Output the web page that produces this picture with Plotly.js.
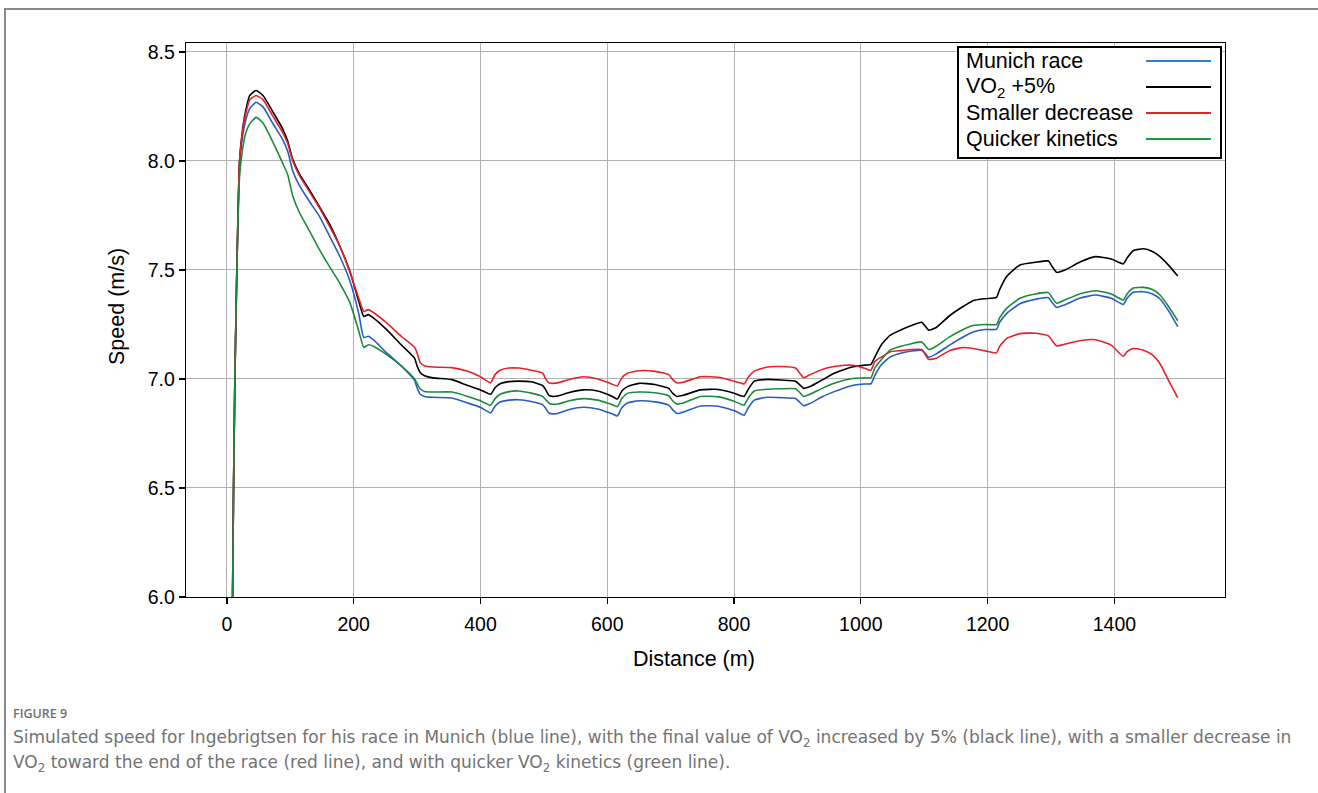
<!DOCTYPE html>
<html>
<head>
<meta charset="utf-8">
<script src="https://cdn.plot.ly/plotly-3.0.1.min.js"></script>
<style>
  html, body { margin: 0; padding: 0; background: #fff; }
  #wrap { position: relative; width: 1318px; height: 793px; }
  #chart { width: 1318px; height: 793px; }
  #frame { position: absolute; left: 4px; top: 8px; right: -2px; bottom: -2px;
           border-top: 2px solid #8a8a8a; border-left: 2px solid #8a8a8a; pointer-events: none; }
</style>
</head>
<body>
<div id="wrap"><div id="chart"></div><div id="frame"></div></div>
<script>
// Distance (m)
const distance = [8.5, 10.5, 12.6, 15.7, 20, 25, 30, 36, 46, 57, 72, 88, 96, 104, 115, 130, 146, 162, 178, 194, 208, 216, 223, 231, 252, 275, 296, 300, 305, 312, 325, 355, 380, 400, 416, 423, 431, 445, 460, 480, 498, 503, 508, 514, 522, 540, 563, 585, 600, 608, 616, 623, 632, 650, 675, 697, 703, 710, 720, 747, 775, 800, 812, 816, 823, 832, 853, 875, 897, 903, 910, 920, 940, 958, 975, 990, 1005, 1016, 1022, 1032, 1046, 1063, 1080, 1096, 1101, 1107, 1119, 1140, 1160, 1177, 1195, 1214, 1219, 1230, 1251, 1275, 1296, 1302, 1309, 1320, 1345, 1370, 1395, 1414, 1420, 1430, 1446, 1460, 1472, 1486, 1500];

// Speed (m/s) per scenario
const munichRace = [5.85, 6.5, 7.0, 7.5, 8.0, 8.12, 8.19, 8.24, 8.269, 8.248, 8.174, 8.098, 8.044, 7.953, 7.884, 7.815, 7.746, 7.655, 7.563, 7.45, 7.30, 7.19, 7.196, 7.18, 7.12, 7.06, 6.994, 6.96, 6.93, 6.92, 6.916, 6.913, 6.89, 6.87, 6.844, 6.875, 6.894, 6.903, 6.905, 6.897, 6.882, 6.865, 6.844, 6.84, 6.842, 6.86, 6.87, 6.862, 6.848, 6.84, 6.83, 6.868, 6.89, 6.90, 6.895, 6.88, 6.86, 6.842, 6.848, 6.876, 6.875, 6.855, 6.838, 6.834, 6.87, 6.903, 6.916, 6.914, 6.91, 6.895, 6.877, 6.888, 6.92, 6.942, 6.96, 6.972, 6.977, 6.978, 7.015, 7.064, 7.10, 7.118, 7.128, 7.132, 7.12, 7.10, 7.115, 7.155, 7.19, 7.215, 7.227, 7.228, 7.26, 7.30, 7.345, 7.365, 7.373, 7.35, 7.328, 7.338, 7.37, 7.385, 7.37, 7.342, 7.37, 7.398, 7.40, 7.39, 7.367, 7.31, 7.24];
const vo2Plus5 = [5.85, 6.5, 7.0, 7.5, 8.0, 8.15, 8.235, 8.30, 8.323, 8.30, 8.228, 8.147, 8.09, 8.006, 7.937, 7.868, 7.79, 7.71, 7.61, 7.494, 7.356, 7.287, 7.295, 7.28, 7.226, 7.157, 7.096, 7.06, 7.03, 7.015, 7.005, 6.997, 6.97, 6.95, 6.93, 6.96, 6.978, 6.988, 6.99, 6.987, 6.97, 6.95, 6.925, 6.92, 6.922, 6.938, 6.95, 6.945, 6.93, 6.92, 6.908, 6.945, 6.965, 6.98, 6.975, 6.957, 6.935, 6.92, 6.925, 6.95, 6.952, 6.935, 6.922, 6.92, 6.955, 6.99, 6.998, 6.995, 6.99, 6.975, 6.957, 6.965, 6.997, 7.026, 7.045, 7.057, 7.063, 7.067, 7.10, 7.155, 7.20, 7.225, 7.245, 7.26, 7.245, 7.224, 7.236, 7.29, 7.33, 7.359, 7.368, 7.374, 7.41, 7.47, 7.523, 7.535, 7.541, 7.515, 7.489, 7.497, 7.535, 7.561, 7.55, 7.528, 7.555, 7.589, 7.597, 7.585, 7.561, 7.52, 7.472];
const smallerDecrease = [5.85, 6.5, 7.0, 7.5, 8.0, 8.14, 8.22, 8.28, 8.30, 8.281, 8.208, 8.13, 8.08, 8.0, 7.93, 7.86, 7.785, 7.70, 7.61, 7.49, 7.37, 7.31, 7.318, 7.305, 7.257, 7.196, 7.145, 7.12, 7.075, 7.06, 7.055, 7.052, 7.035, 7.01, 6.983, 7.02, 7.04, 7.05, 7.05, 7.04, 7.027, 7.0, 6.982, 6.98, 6.982, 6.998, 7.01, 7.0, 6.985, 6.976, 6.968, 7.005, 7.026, 7.038, 7.035, 7.02, 6.998, 6.982, 6.985, 7.01, 7.008, 6.99, 6.98, 6.977, 7.01, 7.036, 7.055, 7.057, 7.05, 7.03, 7.006, 7.02, 7.045, 7.057, 7.063, 7.062, 7.05, 7.04, 7.08, 7.10, 7.124, 7.13, 7.135, 7.135, 7.115, 7.09, 7.095, 7.13, 7.144, 7.14, 7.13, 7.12, 7.15, 7.185, 7.208, 7.21, 7.198, 7.175, 7.152, 7.158, 7.175, 7.18, 7.155, 7.104, 7.125, 7.14, 7.132, 7.11, 7.07, 6.99, 6.913];
const quickerKinetics = [5.85, 6.5, 7.0, 7.5, 7.93, 8.06, 8.13, 8.17, 8.20, 8.174, 8.09, 7.99, 7.937, 7.838, 7.76, 7.68, 7.593, 7.515, 7.44, 7.35, 7.22, 7.145, 7.157, 7.15, 7.112, 7.06, 7.0, 6.98, 6.955, 6.943, 6.94, 6.94, 6.92, 6.90, 6.88, 6.91, 6.93, 6.942, 6.945, 6.935, 6.92, 6.905, 6.89, 6.884, 6.885, 6.9, 6.91, 6.903, 6.89, 6.882, 6.873, 6.91, 6.934, 6.94, 6.937, 6.923, 6.9, 6.885, 6.89, 6.92, 6.918, 6.898, 6.883, 6.88, 6.915, 6.945, 6.953, 6.955, 6.955, 6.94, 6.92, 6.93, 6.958, 6.98, 6.995, 7.003, 7.005, 7.006, 7.05, 7.087, 7.132, 7.15, 7.162, 7.17, 7.155, 7.135, 7.15, 7.193, 7.225, 7.245, 7.25, 7.25, 7.28, 7.324, 7.37, 7.39, 7.396, 7.372, 7.347, 7.36, 7.39, 7.405, 7.39, 7.362, 7.39, 7.417, 7.42, 7.41, 7.385, 7.33, 7.267];

const seriesNames = ['Munich race', 'VO<sub>2</sub> +5%', 'Smaller decrease', 'Quicker kinetics'];
const seriesValues = [munichRace, vo2Plus5, smallerDecrease, quickerKinetics];
const seriesColors = ['#2a5cbf', '#000000', '#e8202a', '#1b8a3c'];
const legendColors = ['#2f7fd0', '#000000', '#e8202a', '#1b9a40'];

const xTicks = [0, 200, 400, 600, 800, 1000, 1200, 1400];
const yTicks = [6.0, 6.5, 7.0, 7.5, 8.0, 8.5];
const xTitle = 'Distance (m)';
const yTitle = 'Speed (m/s)';

const captionLabel = 'FIGURE 9';
const captionLine1 = 'Simulated speed for Ingebrigtsen for his race in Munich (blue line), with the final value of VO<sub>2</sub> increased by 5% (black line), with a smaller decrease in';
const captionLine2 = 'VO<sub>2</sub> toward the end of the race (red line), and with quicker VO<sub>2</sub> kinetics (green line).';

const traces = seriesValues.map((vals, i) => ({
  x: distance, y: vals, type: 'scatter', mode: 'lines', name: seriesNames[i],
  line: { color: seriesColors[i], width: 1.6, shape: 'spline', smoothing: 0.5 },
  showlegend: false, hoverinfo: 'x+y+name'
}));

// custom legend (text left, line sample right), in pixel-based paper coords
const L = 186, T = 43, W = 1039, H = 554;
const px = v => (v - L) / W;
const py = v => (T + H - v) / H;
const shapes = [
  { type: 'rect', xref: 'paper', yref: 'paper', x0: px(958), x1: px(1221), y0: py(158), y1: py(47),
    line: { color: '#000', width: 2 }, fillcolor: '#fff', layer: 'above' }
];
const annotations = [];
seriesNames.forEach((n, i) => {
  const yc = 61 + i * 26;
  shapes.push({ type: 'line', xref: 'paper', yref: 'paper', x0: px(1146), x1: px(1211), y0: py(yc), y1: py(yc),
    line: { color: legendColors[i], width: 2 }, layer: 'above' });
  annotations.push({ xref: 'paper', yref: 'paper', x: px(964), y: py(yc), xanchor: 'left', yanchor: 'middle',
    text: n, showarrow: false, font: { family: 'Liberation Sans', size: 21.5, color: '#000' } });
});
const titleFont = { family: 'Liberation Sans', size: 21.5, color: '#000' };
annotations.push({ xref: 'paper', yref: 'paper', x: px(694), y: py(659), xanchor: 'center', yanchor: 'middle',
  text: xTitle, showarrow: false, font: titleFont });
annotations.push({ xref: 'paper', yref: 'paper', x: px(117), y: py(307), xanchor: 'center', yanchor: 'middle',
  text: yTitle, textangle: -90, showarrow: false, font: titleFont });
annotations.push({ xref: 'paper', yref: 'paper', x: px(11), y: py(713), xanchor: 'left', yanchor: 'middle',
  text: captionLabel, showarrow: false, font: { family: 'Open Sans', size: 12.5, weight: 600, color: '#6e6e6e' } });
annotations.push({ xref: 'paper', yref: 'paper', x: px(11), y: py(738), xanchor: 'left', yanchor: 'middle',
  text: captionLine1, showarrow: false, font: { family: 'DejaVu Sans', size: 17, color: '#727272' } });
annotations.push({ xref: 'paper', yref: 'paper', x: px(11), y: py(763), xanchor: 'left', yanchor: 'middle',
  text: captionLine2, showarrow: false, font: { family: 'DejaVu Sans', size: 17, color: '#727272' } });

const axisFont = { family: 'Liberation Sans', size: 19.5, color: '#000' };
const layout = {
  width: 1318, height: 793,
  margin: { l: L, r: 1318 - L - W, t: T, b: 793 - T - H, pad: 0 },
  paper_bgcolor: '#fff', plot_bgcolor: '#fff',
  showlegend: false,
  xaxis: {
    range: [-64.5, 1574.5], tickvals: xTicks, ticktext: xTicks.map(String),
    showgrid: true, gridcolor: '#b0b0b0', gridwidth: 1, zeroline: false,
    showline: true, mirror: true, linecolor: '#000', linewidth: 1.3,
    ticks: 'outside', ticklen: 6, tickwidth: 1.3, tickcolor: '#000',
    ticklabelstandoff: 3,
    tickfont: axisFont
  },
  yaxis: {
    range: [6.0, 8.541], tickvals: yTicks, ticktext: yTicks.map(v => v.toFixed(1)),
    showgrid: true, gridcolor: '#b0b0b0', gridwidth: 1, zeroline: false,
    showline: true, mirror: true, linecolor: '#000', linewidth: 1.3,
    ticks: 'outside', ticklen: 6, tickwidth: 1.3, tickcolor: '#000',
    tickfont: axisFont
  },
  shapes: shapes,
  annotations: annotations
};
Plotly.newPlot('chart', traces, layout, { displayModeBar: false, staticPlot: true });
</script>
</body>
</html>
